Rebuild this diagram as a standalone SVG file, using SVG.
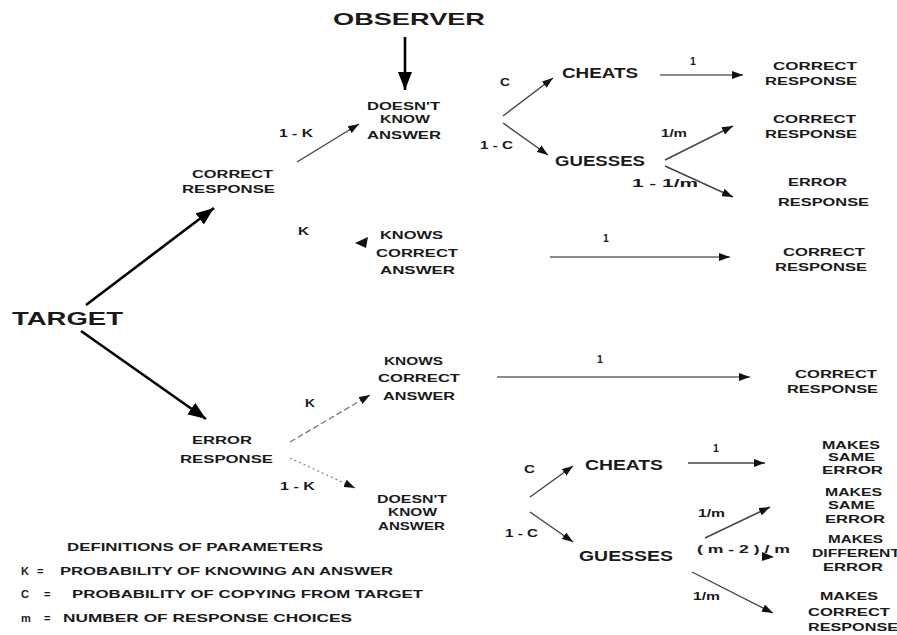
<svg xmlns="http://www.w3.org/2000/svg" width="897" height="635" viewBox="0 0 897 635">
<style>
text{font-family:"Liberation Sans",Arial,sans-serif;font-weight:bold;fill:#1a1a1a;font-size:11px}
.lbl{font-size:10.5px}
.mid{font-size:14px}
.sm{font-size:10px}
.leg{font-size:11px}
.thick{stroke:#000;stroke-width:2.6;fill:none}
.thin{stroke:#444;stroke-width:1.4;fill:none}
.gray{stroke:#666;stroke-width:1.6;fill:none}
.dash{stroke:#777;stroke-width:1.3;fill:none;stroke-dasharray:6 3}
.dot{stroke:#888;stroke-width:1.3;fill:none;stroke-dasharray:2 3}
</style>
<defs>
<marker id="big" viewBox="0 0 18 14" markerWidth="18" markerHeight="14" refX="18" refY="7" orient="auto" markerUnits="userSpaceOnUse"><path d="M0,0 L18,7 L0,14 z" fill="#000"/></marker>
<marker id="sm" viewBox="0 0 11 8" markerWidth="11" markerHeight="8" refX="11" refY="4" orient="auto" markerUnits="userSpaceOnUse"><path d="M0,0 L11,4 L0,8 z" fill="#111"/></marker>
</defs>
<rect width="897" height="635" fill="#fff"/>
<g id="connectors">
<line class="thick" x1="405" y1="37" x2="405" y2="90" marker-end="url(#big)"/>
<line class="thick" x1="86" y1="305" x2="214" y2="208" marker-end="url(#big)"/>
<line class="thick" x1="81" y1="331" x2="206" y2="419" marker-end="url(#big)"/>
<line class="thin" x1="297" y1="162" x2="359" y2="124" marker-end="url(#sm)"/>
<polygon points="355,243 368,237 366,248" fill="#111"/>
<line class="thin" x1="503" y1="116" x2="553" y2="78" marker-end="url(#sm)"/>
<line class="thin" x1="503" y1="123" x2="548" y2="155" marker-end="url(#sm)"/>
<line class="gray" x1="660" y1="75" x2="743" y2="75" marker-end="url(#sm)"/>
<line class="thin" x1="665" y1="160" x2="733" y2="126" marker-end="url(#sm)"/>
<line class="thin" x1="665" y1="166" x2="733" y2="197" marker-end="url(#sm)"/>
<line class="gray" x1="550" y1="257" x2="730" y2="257" marker-end="url(#sm)"/>
<line class="dash" x1="290" y1="442" x2="370" y2="395" marker-end="url(#sm)"/>
<line class="dot" x1="290" y1="458" x2="355" y2="488" marker-end="url(#sm)"/>
<line class="gray" x1="497" y1="377" x2="750" y2="377" marker-end="url(#sm)"/>
<line class="thin" x1="530" y1="497" x2="573" y2="466" marker-end="url(#sm)"/>
<line class="thin" x1="530" y1="512" x2="573" y2="542" marker-end="url(#sm)"/>
<line class="thin" x1="688" y1="463" x2="765" y2="463" marker-end="url(#sm)"/>
<line class="thin" x1="705" y1="538" x2="770" y2="507" marker-end="url(#sm)"/>
<polygon points="762,552 774,557 762,561" fill="#111"/>
<line class="thin" x1="692" y1="572" x2="773" y2="613" marker-end="url(#sm)"/>
</g>
<g id="labels">
<text class="lbl" x="279" y="137" textLength="34" lengthAdjust="spacingAndGlyphs">1 - K</text>
<text class="lbl" x="298" y="235" textLength="11" lengthAdjust="spacingAndGlyphs">K</text>
<text class="lbl" x="500" y="86" textLength="10" lengthAdjust="spacingAndGlyphs">C</text>
<text class="lbl" x="690" y="65">1</text>
<text class="lbl" x="480" y="149" textLength="33" lengthAdjust="spacingAndGlyphs">1 - C</text>
<text class="lbl" x="661" y="137" textLength="26" lengthAdjust="spacingAndGlyphs">1/m</text>
<text class="lbl" x="632" y="187" textLength="66" lengthAdjust="spacingAndGlyphs">1  -  1/m</text>
<text class="lbl" x="603" y="242">1</text>
<text class="lbl" x="305" y="407" textLength="10" lengthAdjust="spacingAndGlyphs">K</text>
<text class="lbl" x="280" y="490" textLength="35" lengthAdjust="spacingAndGlyphs">1 - K</text>
<text class="lbl" x="597" y="363">1</text>
<text class="lbl" x="524" y="473" textLength="11" lengthAdjust="spacingAndGlyphs">C</text>
<text class="lbl" x="713" y="452">1</text>
<text class="lbl" x="505" y="537" textLength="33" lengthAdjust="spacingAndGlyphs">1 - C</text>
<text class="lbl" x="698" y="517" textLength="27" lengthAdjust="spacingAndGlyphs">1/m</text>
<text class="lbl" x="697" y="553" textLength="93" lengthAdjust="spacingAndGlyphs">( m  -  2 ) / m</text>
<text class="lbl" x="693" y="600" textLength="27" lengthAdjust="spacingAndGlyphs">1/m</text>
</g>
<g id="observer"><text x="333" y="25" style="font-size:17px" textLength="152" lengthAdjust="spacingAndGlyphs">OBSERVER</text></g>
<g id="target"><text x="12" y="325" style="font-size:19px" textLength="111" lengthAdjust="spacingAndGlyphs">TARGET</text></g>
<g id="correct-response-1">
<text x="192" y="178" textLength="81" lengthAdjust="spacingAndGlyphs">CORRECT</text>
<text x="182" y="193" textLength="93" lengthAdjust="spacingAndGlyphs">RESPONSE</text>
</g>
<g id="doesnt-know-1">
<text x="367" y="110" textLength="73" lengthAdjust="spacingAndGlyphs">DOESN'T</text>
<text x="380" y="123" textLength="50" lengthAdjust="spacingAndGlyphs">KNOW</text>
<text x="367" y="139" textLength="74" lengthAdjust="spacingAndGlyphs">ANSWER</text>
</g>
<g id="knows-1">
<text x="380" y="239" textLength="63" lengthAdjust="spacingAndGlyphs">KNOWS</text>
<text x="376" y="257" textLength="82" lengthAdjust="spacingAndGlyphs">CORRECT</text>
<text x="380" y="274" textLength="75" lengthAdjust="spacingAndGlyphs">ANSWER</text>
</g>
<g id="cheats-1"><text class="mid" x="562" y="78" textLength="76" lengthAdjust="spacingAndGlyphs">CHEATS</text></g>
<g id="guesses-1"><text class="mid" x="555" y="166" textLength="90" lengthAdjust="spacingAndGlyphs">GUESSES</text></g>
<g id="outcome-1">
<text x="773" y="70" textLength="84" lengthAdjust="spacingAndGlyphs">CORRECT</text>
<text x="765" y="85" textLength="92" lengthAdjust="spacingAndGlyphs">RESPONSE</text>
</g>
<g id="outcome-2">
<text x="773" y="123" textLength="83" lengthAdjust="spacingAndGlyphs">CORRECT</text>
<text x="765" y="138" textLength="92" lengthAdjust="spacingAndGlyphs">RESPONSE</text>
</g>
<g id="outcome-3">
<text x="788" y="186" textLength="59" lengthAdjust="spacingAndGlyphs">ERROR</text>
<text x="778" y="206" textLength="91" lengthAdjust="spacingAndGlyphs">RESPONSE</text>
</g>
<g id="outcome-4">
<text x="783" y="256" textLength="82" lengthAdjust="spacingAndGlyphs">CORRECT</text>
<text x="775" y="271" textLength="92" lengthAdjust="spacingAndGlyphs">RESPONSE</text>
</g>
<g id="error-response">
<text x="192" y="444" textLength="60" lengthAdjust="spacingAndGlyphs">ERROR</text>
<text x="180" y="463" textLength="93" lengthAdjust="spacingAndGlyphs">RESPONSE</text>
</g>
<g id="knows-2">
<text x="384" y="365" textLength="59" lengthAdjust="spacingAndGlyphs">KNOWS</text>
<text x="378" y="382" textLength="82" lengthAdjust="spacingAndGlyphs">CORRECT</text>
<text x="383" y="400" textLength="72" lengthAdjust="spacingAndGlyphs">ANSWER</text>
</g>
<g id="doesnt-know-2" class="sm">
<text class="sm" x="377" y="503" textLength="70" lengthAdjust="spacingAndGlyphs">DOESN'T</text>
<text class="sm" x="388" y="516" textLength="49" lengthAdjust="spacingAndGlyphs">KNOW</text>
<text class="sm" x="378" y="530" textLength="67" lengthAdjust="spacingAndGlyphs">ANSWER</text>
</g>
<g id="outcome-5">
<text x="795" y="378" textLength="82" lengthAdjust="spacingAndGlyphs">CORRECT</text>
<text x="787" y="393" textLength="91" lengthAdjust="spacingAndGlyphs">RESPONSE</text>
</g>
<g id="cheats-2"><text class="mid" x="585" y="470" textLength="78" lengthAdjust="spacingAndGlyphs">CHEATS</text></g>
<g id="guesses-2"><text class="mid" x="579" y="561" textLength="94" lengthAdjust="spacingAndGlyphs">GUESSES</text></g>
<g id="outcome-6">
<text class="sm" x="822" y="449" textLength="58" lengthAdjust="spacingAndGlyphs">MAKES</text>
<text class="sm" x="828" y="461" textLength="47" lengthAdjust="spacingAndGlyphs">SAME</text>
<text class="sm" x="822" y="474" textLength="61" lengthAdjust="spacingAndGlyphs">ERROR</text>
</g>
<g id="outcome-7">
<text class="sm" x="825" y="496" textLength="57" lengthAdjust="spacingAndGlyphs">MAKES</text>
<text class="sm" x="828" y="509" textLength="47" lengthAdjust="spacingAndGlyphs">SAME</text>
<text class="sm" x="825" y="523" textLength="60" lengthAdjust="spacingAndGlyphs">ERROR</text>
</g>
<g id="outcome-8">
<text class="sm" x="828" y="543" textLength="55" lengthAdjust="spacingAndGlyphs">MAKES</text>
<text class="sm" x="812" y="557" textLength="88" lengthAdjust="spacingAndGlyphs">DIFFERENT</text>
<text class="sm" x="823" y="571" textLength="60" lengthAdjust="spacingAndGlyphs">ERROR</text>
</g>
<g id="outcome-9">
<text class="sm" x="820" y="600" textLength="58" lengthAdjust="spacingAndGlyphs">MAKES</text>
<text class="sm" x="808" y="616" textLength="82" lengthAdjust="spacingAndGlyphs">CORRECT</text>
<text class="sm" x="808" y="631" textLength="90" lengthAdjust="spacingAndGlyphs">RESPONSE</text>
</g>
<g id="legend">
<text class="leg" x="67" y="551" textLength="256" lengthAdjust="spacingAndGlyphs">DEFINITIONS OF PARAMETERS</text>
<text class="leg" x="21" y="575">K</text>
<text class="leg" x="37" y="575">=</text>
<text class="leg" x="60" y="575" textLength="333" lengthAdjust="spacingAndGlyphs">PROBABILITY OF KNOWING AN ANSWER</text>
<text class="leg" x="21" y="598">C</text>
<text class="leg" x="44" y="598">=</text>
<text class="leg" x="72" y="598" textLength="351" lengthAdjust="spacingAndGlyphs">PROBABILITY OF  COPYING FROM TARGET</text>
<text class="leg" x="21" y="622">m</text>
<text class="leg" x="44" y="622">=</text>
<text class="leg" x="63" y="622" textLength="289" lengthAdjust="spacingAndGlyphs">NUMBER OF RESPONSE  CHOICES</text>
</g>
</svg>
